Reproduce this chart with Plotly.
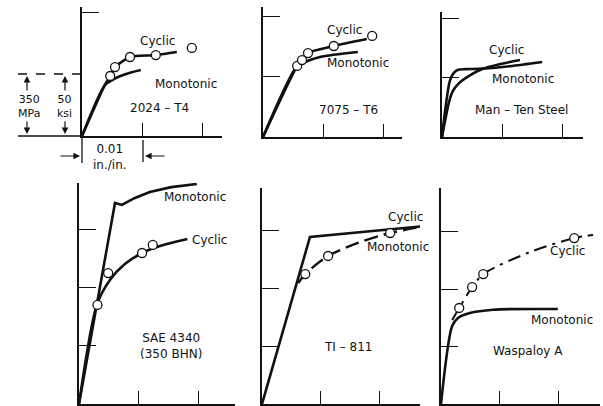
import plotly.graph_objects as go

W, H = 603, 406

# strain in in./in., stress in ksi
t4_mono_x = [0, 0.0038, 0.0048, 0.0062, 0.008, 0.0098]
t4_mono_y = [0, 41, 44.5, 48, 51, 53.2]
t4_cyc_x = [0, 0.0038, 0.0047, 0.0055, 0.0066, 0.008, 0.0123, 0.0158]
t4_cyc_y = [0, 41, 48.4, 55.6, 59.7, 63.7, 65.3, 67.7]
t4_pts_x = [0.0047, 0.0055, 0.008, 0.0123, 0.0183]
t4_pts_y = [48.4, 55.6, 63.7, 65.3, 71]

t6_mono_x = [0, 0.0057, 0.007, 0.0095, 0.0158]
t6_mono_y = [0, 58.7, 62, 66.1, 70.2]
t6_cyc_x = [0, 0.0057, 0.0065, 0.0075, 0.0118, 0.0173]
t6_cyc_y = [0, 58.7, 63.6, 69.4, 75.2, 81]
t6_pts_x = [0.0057, 0.0065, 0.0075, 0.0118, 0.0182]
t6_pts_y = [58.7, 63.6, 69.4, 75.2, 83.5]

mt_mono_x = [0, 0.0013, 0.0019, 0.0027, 0.004, 0.0068, 0.0113, 0.0167]
mt_mono_y = [0, 47, 53.5, 56.5, 57, 57.5, 59.5, 63]
mt_cyc_x = [0, 0.0012, 0.0018, 0.0028, 0.0038, 0.0067, 0.0097, 0.013]
mt_cyc_y = [0, 30, 38.5, 45, 49, 57.1, 61.3, 64.7]

sae_mono_x = [0, 0.00605, 0.0072, 0.0094, 0.0119, 0.0155, 0.0198]
sae_mono_y = [0, 172.4, 170.7, 176.7, 181.8, 186, 188.7]
sae_cyc_x = [0, 0.003, 0.0052, 0.0077, 0.0106, 0.0136, 0.0182]
sae_cyc_y = [0, 85, 106.3, 120, 129.5, 135.5, 141.5]
sae_pts_x = [0.0031, 0.0049, 0.0106, 0.0124]
sae_pts_y = [85, 112.3, 129.5, 136.4]

ti_mono_x = [0, 0.0082, 0.0279]
ti_mono_y = [0, 144, 153.4]
ti_cyc_x = [0.0062, 0.0074, 0.0113, 0.0164, 0.0219, 0.0279]
ti_cyc_y = [104.3, 112, 127.6, 138.8, 147.4, 153.4]
ti_pts_x = [0.0074, 0.0113, 0.0219]
ti_pts_y = [112, 127.6, 147.4]

wa_mono_x = [0, 0.0019, 0.0029, 0.0049, 0.0089, 0.0199]
wa_mono_y = [0, 67.8, 74.8, 79.1, 82, 82.6]
wa_cyc_x = [0.0019, 0.0031, 0.0053, 0.0072, 0.0152, 0.0227, 0.0259]
wa_cyc_y = [73, 83.5, 101.7, 113, 132.2, 144.3, 147]
wa_pts_x = [0.0031, 0.0053, 0.0072, 0.0227]
wa_pts_y = [83.5, 101.7, 113, 144.3]

x_ticks = [0.01, 0.02]

INK = '#111111'
FONT = 'DejaVu Sans'

# pixel boxes of the six panels: left, right, top, bottom, px per 0.01, px per 50 ksi
boxes = [
    (82, 222, 7, 136, 60, 62, [100]),
    (263, 402, 7, 137, 60, 60.5, [50, 100]),
    (442, 583, 12, 137, 60, 59.5, [50, 100]),
    (79, 235, 183, 404, 59.5, 58.3, [50, 100, 150]),
    (262, 420, 188, 404, 58.5, 58, [50, 100, 150]),
    (441, 600, 188, 404, 58.7, 57.5, [50, 100, 150]),
]

fig = go.Figure()


def line(n, xs, ys, shape='spline', dash='solid', width=2.6):
    fig.add_trace(go.Scatter(x=xs, y=ys, mode='lines', xaxis='x%d' % n, yaxis='y%d' % n,
                             line=dict(color=INK, width=width, shape=shape, dash=dash, smoothing=0.8),
                             hoverinfo='skip'))


def dots(n, xs, ys):
    fig.add_trace(go.Scatter(x=xs, y=ys, mode='markers', xaxis='x%d' % n, yaxis='y%d' % n,
                             marker=dict(symbol='circle', size=9, color='white',
                                         line=dict(color=INK, width=1.3)),
                             cliponaxis=False, hoverinfo='skip'))


line(1, t4_mono_x, t4_mono_y)
line(1, t4_cyc_x, t4_cyc_y)
dots(1, t4_pts_x, t4_pts_y)
line(2, t6_mono_x, t6_mono_y)
line(2, t6_cyc_x, t6_cyc_y)
dots(2, t6_pts_x, t6_pts_y)
line(3, mt_mono_x, mt_mono_y)
line(3, mt_cyc_x, mt_cyc_y)
line(4, sae_mono_x, sae_mono_y, shape='linear')
line(4, sae_cyc_x, sae_cyc_y)
dots(4, sae_pts_x, sae_pts_y)
line(5, ti_mono_x, ti_mono_y, shape='linear')
line(5, ti_cyc_x, ti_cyc_y, dash='14px,6px', width=2.4)
dots(5, ti_pts_x, ti_pts_y)
line(6, wa_mono_x, wa_mono_y)
line(6, wa_cyc_x, wa_cyc_y, dash='13px,6px,3px,6px', width=2.0)
dots(6, wa_pts_x, wa_pts_y)

layout = dict(width=W, height=H, margin=dict(l=0, r=0, t=0, b=0),
              paper_bgcolor='white', plot_bgcolor='white', showlegend=False)

for i, (l, r, t, b, sx, sy, yt) in enumerate(boxes, start=1):
    ax = dict(showline=True, linecolor=INK, linewidth=2, showgrid=False, zeroline=False,
              showticklabels=False, ticks='inside', tickcolor=INK, tickwidth=1.3, fixedrange=True)
    layout['xaxis%d' % i] = dict(ax, domain=[l / W, r / W], range=[0, (r - l) / sx * 0.01],
                                 tickvals=x_ticks, ticklen=13, anchor='y%d' % i)
    layout['yaxis%d' % i] = dict(ax, domain=[1 - b / H, 1 - t / H], range=[0, (b - t) / sy * 50],
                                 tickvals=yt, ticklen=17, anchor='x%d' % i)

fig.update_layout(**layout)


def px(x, y):
    return x / W, 1 - y / H


labels = [
    ('Cyclic', 157, 41), ('Monotonic', 186, 84), ('2024 – T4', 159, 108),
    ('Cyclic', 344, 30), ('Monotonic', 358, 63), ('7075 – T6', 348, 110),
    ('Cyclic', 506, 50), ('Monotonic', 523, 79), ('Man – Ten Steel', 521, 110),
    ('Monotonic', 195, 197), ('Cyclic', 209, 240), ('SAE 4340<br>(350 BHN)', 171, 346),
    ('Cyclic', 405, 217), ('Monotonic', 398, 247), ('TI – 811', 348, 347),
    ('Cyclic', 567, 251), ('Monotonic', 562, 320), ('Waspaloy A', 528, 351),
    ('0.01<br>in./in.', 110, 157),
]
for txt, x, y in labels:
    xx, yy = px(x, y)
    fig.add_annotation(text=txt, x=xx, y=yy, xref='paper', yref='paper', showarrow=False,
                       xanchor='center', yanchor='middle', font=dict(family=FONT, size=12, color=INK))

for txt, x, y in [('350<br>MPa', 29, 106), ('50<br>ksi', 64, 106)]:
    xx, yy = px(x, y)
    fig.add_annotation(text=txt, x=xx, y=yy, xref='paper', yref='paper', showarrow=False,
                       xanchor='center', yanchor='middle', font=dict(family=FONT, size=11, color=INK))

# scale key of the first panel
for x0, y0, x1, y1, dash in [(18, 74, 82, 74, 'dash'), (18, 136, 82, 136, 'solid'),
                             (82, 136, 82, 163, 'solid'), (143, 140, 143, 162, 'solid')]:
    a0, b0 = px(x0, y0)
    a1, b1 = px(x1, y1)
    fig.add_shape(type='line', xref='paper', yref='paper', x0=a0, y0=b0, x1=a1, y1=b1,
                  line=dict(color=INK, width=1.3, dash=dash))

for hx, hy, dx, dy in [(27, 76, 0, 16), (27, 134, 0, -14), (65, 76, 0, 16), (65, 134, 0, -14),
                       (80, 156, -21, 0), (145, 156, 21, 0)]:
    xx, yy = px(hx, hy)
    fig.add_annotation(x=xx, y=yy, xref='paper', yref='paper', text='', showarrow=True,
                       ax=dx, ay=dy, arrowhead=2, arrowsize=1.1, arrowwidth=1.2, arrowcolor=INK)

fig.write_html("out.html", config={'displayModeBar': False},
               post_script="document.body.style.margin='0';")
